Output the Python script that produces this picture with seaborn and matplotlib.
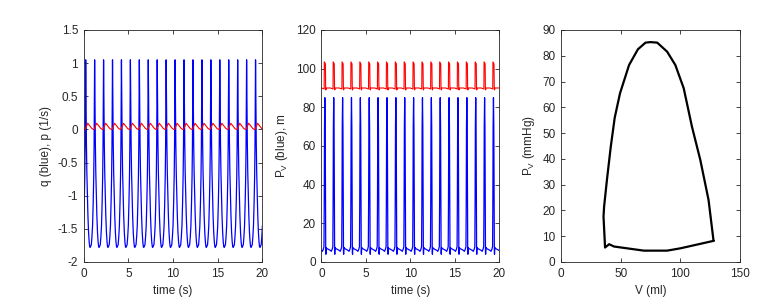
import numpy as np
import pandas as pd
import matplotlib
matplotlib.use("Agg")
import matplotlib.pyplot as plt
import seaborn as sb

# one heart beat (period 1 s)
period = 1.0
n_beats = 20

q_t = [0.00, 0.07, 0.13, 0.17, 0.20, 0.23, 0.27, 0.31, 0.36, 0.42, 0.48, 0.55, 0.62, 0.68, 0.73, 0.80, 0.86, 0.93]
q_val = [-1.45, -1.10, -0.70, -0.25, 0.35, 1.05, 0.35, -0.20, -0.65, -1.00, -1.30, -1.55, -1.70, -1.77, -1.78, -1.76, -1.74, -1.62]

p_t = [0.00, 0.08, 0.17, 0.46, 0.93]
p_val = [0.008, 0.0, 0.0, 0.093, 0.012]

pv_t = [0.00, 0.10, 0.20, 0.28, 0.31, 0.34, 0.38, 0.42, 0.45, 0.48, 0.50, 0.53, 0.60, 0.80]
pv_val = [6.0, 5.5, 6.5, 8.0, 30.0, 70.0, 85.0, 70.0, 30.0, 5.0, 4.0, 7.5, 7.0, 6.5]

pa_t = [0.00, 0.30, 0.32, 0.44, 0.47, 0.50, 0.55]
pa_val = [90.0, 89.5, 103.5, 102.5, 89.5, 89.0, 90.0]

# pressure-volume loop, starting at end diastole
loop_v = [127.8, 123.6, 116.7, 109.7, 102.8, 95.8, 88.9, 80.6, 75.0, 70.8, 64.4, 57.0, 49.4, 45.0, 41.7,
          38.5, 36.1, 35.6, 36.9, 40.3, 44.4, 69.4, 88.9, 100.0, 127.8]
loop_p = [8.2, 24.1, 39.6, 52.5, 67.4, 76.4, 81.6, 85.1, 85.3, 85.1, 82.5, 76.4, 65.4, 56.0, 44.8,
          32.0, 21.5, 17.6, 5.6, 6.9, 6.0, 4.4, 4.4, 5.3, 8.2]


def repeat_beats(bt, bv):
    t = np.concatenate([np.array(bt) + k * period for k in range(n_beats)] + [[n_beats * period]])
    v = np.concatenate([np.array(bv)] * n_beats + [[bv[0]]])
    return pd.DataFrame({'t': t, 'v': v})


q_df = repeat_beats(q_t, q_val)
p_df = repeat_beats(p_t, p_val)
pv_df = repeat_beats(pv_t, pv_val)
pa_df = repeat_beats(pa_t, pa_val)
loop_df = pd.DataFrame({'V': loop_v, 'P': loop_p})

sb.set_style('ticks', {'xtick.direction': 'in', 'ytick.direction': 'in'})
plt.rcParams['font.family'] = ['Liberation Sans', 'DejaVu Sans']
plt.rcParams['font.size'] = 8.5
plt.rcParams['text.color'] = '#262626'
plt.rcParams['axes.labelcolor'] = '#262626'
plt.rcParams['axes.linewidth'] = 0.6
plt.rcParams['axes.edgecolor'] = '#262626'
plt.rcParams['xtick.major.size'] = 3
plt.rcParams['ytick.major.size'] = 3
plt.rcParams['xtick.major.width'] = 0.6
plt.rcParams['ytick.major.width'] = 0.6

fig = plt.figure(figsize=(7.68, 3.08), dpi=100)
ax1 = fig.add_axes([0.1089, 0.1494, 0.2328, 0.7532])
ax2 = fig.add_axes([0.4186, 0.1494, 0.2311, 0.7532])
ax3 = fig.add_axes([0.7305, 0.1494, 0.2331, 0.7532])

sb.lineplot(data=q_df, x='t', y='v', ax=ax1, color='#0000ff', lw=0.9, sort=False, estimator=None)
sb.lineplot(data=p_df, x='t', y='v', ax=ax1, color='#ff0000', lw=0.8, sort=False, estimator=None)
ax1.set_xlim(0, 20)
ax1.set_ylim(-2, 1.5)
ax1.set_xticks([0, 5, 10, 15, 20])
ax1.set_yticks(np.arange(-2, 1.51, 0.5))
ax1.set_yticklabels(['-2', '-1.5', '-1', '-0.5', '0', '0.5', '1', '1.5'])
ax1.set_xlabel('time (s)')
ax1.set_ylabel('q (blue), p (1/s)')

sb.lineplot(data=pv_df, x='t', y='v', ax=ax2, color='#0000ff', lw=0.9, sort=False, estimator=None)
sb.lineplot(data=pa_df, x='t', y='v', ax=ax2, color='#ff0000', lw=0.8, sort=False, estimator=None)
ax2.set_xlim(0, 20)
ax2.set_ylim(0, 120)
ax2.set_xticks([0, 5, 10, 15, 20])
ax2.set_yticks(range(0, 121, 20))
ax2.set_xlabel('time (s)')
ax2.set_ylabel(r'P$_\mathregular{V}$ (blue), m')

sb.lineplot(data=loop_df, x='V', y='P', ax=ax3, color='black', lw=1.6, sort=False, estimator=None)
ax3.set_xlim(0, 150)
ax3.set_ylim(0, 90)
ax3.set_xticks([0, 50, 100, 150])
ax3.set_yticks(range(0, 91, 10))
ax3.set_xlabel('V (ml)')
ax3.set_ylabel(r'P$_\mathregular{V}$ (mmHg)')

for ax in (ax1, ax2, ax3):
    ax.tick_params(top=True, right=True, labelsize=8.5, pad=4, colors='#262626')
    for s in ax.spines.values():
        s.set_visible(True)

fig.savefig('out.png', dpi=100)
